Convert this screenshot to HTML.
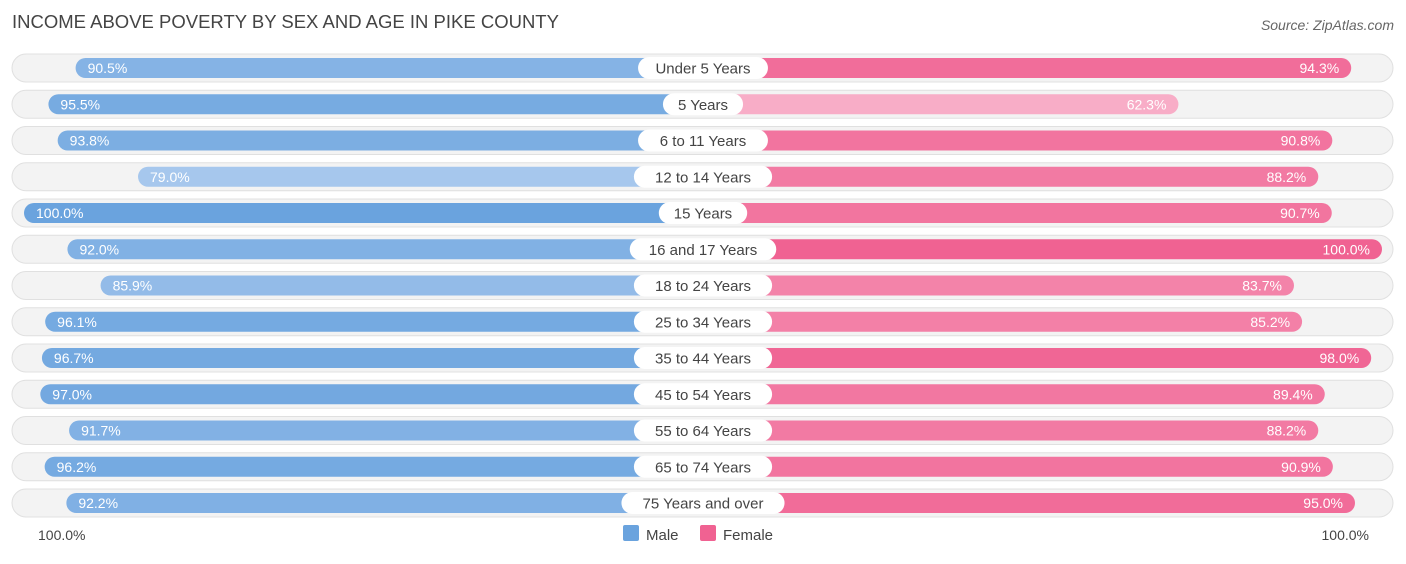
<!DOCTYPE html>
<html><head><meta charset="utf-8"><style>
body{margin:0;background:#fff;font-family:"Liberation Sans",sans-serif;}
svg text{font-family:"Liberation Sans",sans-serif;}
</style></head><body>
<svg width="1406" height="559">
<text x="12" y="28" font-size="18.5" fill="#444">INCOME ABOVE POVERTY BY SEX AND AGE IN PIKE COUNTY</text>
<text x="1394" y="30" font-size="14" fill="#666" font-style="italic" text-anchor="end">Source: ZipAtlas.com</text>
<g id="rows"></g>
<text x="38" y="540" font-size="14" fill="#444">100.0%</text>
<text x="1369" y="540" font-size="14" fill="#444" text-anchor="end">100.0%</text>
<rect x="623" y="525" width="16" height="16" rx="2" fill="#6aa3de"/>
<text x="646" y="540" font-size="15" fill="#444">Male</text>
<rect x="700" y="525" width="16" height="16" rx="2" fill="#f06292"/>
<text x="723" y="540" font-size="15" fill="#444">Female</text>
</svg>
<script>
const categories=["Under 5 Years","5 Years","6 to 11 Years","12 to 14 Years","15 Years","16 and 17 Years","18 to 24 Years","25 to 34 Years","35 to 44 Years","45 to 54 Years","55 to 64 Years","65 to 74 Years","75 Years and over"];
const maleValues=[90.5,95.5,93.8,79.0,100.0,92.0,85.9,96.1,96.7,97.0,91.7,96.2,92.2];
const femaleValues=[94.3,62.3,90.8,88.2,90.7,100.0,83.7,85.2,98.0,89.4,88.2,90.9,95.0];
const NS='http://www.w3.org/2000/svg';
const g=document.getElementById('rows');
const maleX=v=>567-5.43*v;
const femaleX=v=>842+5.4*v;
const rowY=i=>68+i*36.25;
function mix(a,b,t){return 'rgb('+a.map((c,k)=>Math.round(c+(b[k]-c)*t)).join(',')+')';}
function mk(tag,attrs){const e=document.createElementNS(NS,tag);for(const k in attrs)e.setAttribute(k,attrs[k]);g.appendChild(e);return e;}
categories.forEach((c,i)=>{
  const y=rowY(i);
  const bg=mk('rect',{x:12,y:y-14,width:1381,height:28,rx:14,fill:'#f3f3f3',stroke:'#e0e0e0'});
  
  
  const mv=maleValues[i],fv=femaleValues[i];
  const mt=Math.max(0,Math.min(1,(100-mv)/25));
  const mx=maleX(mv);
  const mb=mk('rect',{x:mx,y:y-10,width:703-mx,height:20,rx:10,fill:mix([106,163,222],[178,206,240],mt)});
  
  
  const ft=Math.max(0,Math.min(1,(100-fv)/40));
  const fx=femaleX(fv);
  const fb=mk('rect',{x:703,y:y-10,width:fx-703,height:20,rx:10,fill:mix([240,98,146],[248,178,202],ft)});
  
  
  const ml=mk('text',{x:mx+12,y:y+5,'font-size':14,fill:'#fff'});ml.textContent=mv.toFixed(1)+'%';
  
  
  const fl=mk('text',{x:fx-12,y:y+5,'font-size':14,fill:'#fff','text-anchor':'end'});fl.textContent=fv.toFixed(1)+'%';
  
  
  const w=c.length*8.3+22;
  const lb=mk('rect',{x:703-w/2,y:y-11,width:w,height:22,rx:11,fill:'#fff'});
  
  
  const lt=mk('text',{x:703,y:y+5.5,'font-size':15,fill:'#444','text-anchor':'middle'});lt.textContent=c;
  
  
});
</script>
</body></html>
